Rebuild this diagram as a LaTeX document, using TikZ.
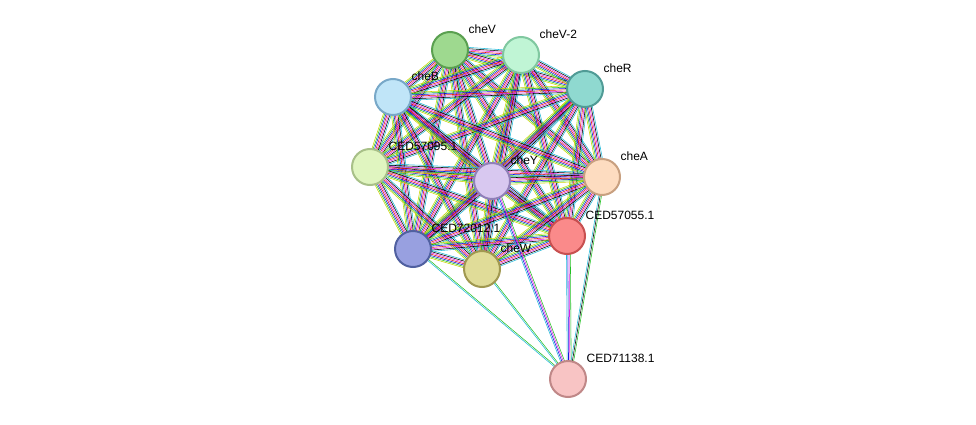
\documentclass[tikz,border=0pt]{standalone}
\usepackage{fontspec}
\setmainfont{Liberation Sans}
\usetikzlibrary{calc}
\definecolor{lyel}{HTML}{C8D400}
\definecolor{lgrn}{HTML}{22C022}
\definecolor{lblu}{HTML}{1515E0}
\definecolor{lred}{HTML}{E01515}
\definecolor{lmag}{HTML}{E020E0}
\definecolor{lcya}{HTML}{20B8D8}
\tikzset{prot/.style={circle, draw, line width=2pt, minimum size=36pt,
                      inner sep=0pt},
         lbl/.style={font=\fontsize{12}{13}\selectfont, inner sep=1pt,
                     anchor=south west, xshift=4pt, yshift=2pt},
         link/.style={line width=0.55pt}}
% bundle of parallel coloured lines between two nodes
\newcommand\bundle[4]{%
  \foreach \c [count=\i] in {#4} {%
    \pgfmathsetmacro\o{(#3+\i)*1.3}
    \draw[link,\c] ($(#1)!\o pt!90:(#2)$) -- ($(#2)!\o pt!-90:(#1)$);
  }}
\begin{document}
\begin{tikzpicture}[x=1pt,y=-1pt]
\useasboundingbox (0,0) rectangle (976,425);

% positions
\coordinate (pV)  at (450,50);
\coordinate (pV2) at (521,55);
\coordinate (pR)  at (585,89);
\coordinate (pB)  at (393,97);
\coordinate (p95) at (370,167);
\coordinate (pY)  at (492,181);
\coordinate (pA)  at (602,177);
\coordinate (p55) at (567,236);
\coordinate (p12) at (413,249);
\coordinate (pW)  at (482,269);
\coordinate (p38) at (568,379);

% dense edges
\foreach \a/\b in {pV/pV2,pV/pR,pV/pB,pV/p95,pV/pY,pV/pA,pV/p55,pV/p12,pV/pW,
                   pV2/pR,pV2/pB,pV2/p95,pV2/pY,pV2/pA,pV2/p55,pV2/p12,pV2/pW,
                   pR/pB,pR/p95,pR/pY,pR/pA,pR/p55,pR/p12,pR/pW,
                   pB/p95,pB/pY,pB/pA,pB/p55,pB/p12,pB/pW,
                   p95/pY,p95/pA,p95/p55,p95/p12,p95/pW,
                   pY/pA,pY/p55,pY/p12,pY/pW,
                   pA/p55,pA/p12,pA/pW,
                   p55/p12,p55/pW,
                   p12/pW}
  {\bundle{\a}{\b}{-4}{lyel,lgrn,lblu,lred,lmag,black,lcya}}

% edges to CED71138.1
\bundle{p38}{p12}{-2.5}{lgrn,lcya}
\bundle{p38}{pW}{-2.5}{lgrn,lcya}
\bundle{p38}{pY}{-3.5}{lgrn,lmag,lblu,lcya}
\bundle{p38}{p55}{-3.5}{lgrn,lmag,lblu,lcya}
\bundle{p38}{pA}{-3}{lgrn,black,lcya}

% proteins
\node (cheV)  [prot,fill={rgb,255:red,158;green,217;blue,143},draw={rgb,255:red,90;green,160;blue,80},
               label={[lbl]45:cheV}] at (pV){};
\node (cheV2) [prot,fill={rgb,255:red,192;green,245;blue,213},draw={rgb,255:red,128;green,200;blue,160},
               label={[lbl]45:cheV-2}] at (pV2){};
\node (cheR)  [prot,fill={rgb,255:red,143;green,217;blue,208},draw={rgb,255:red,80;green,155;blue,150},
               label={[lbl]45:cheR}] at (pR){};
\node (cheB)  [prot,fill={rgb,255:red,192;green,229;blue,248},draw={rgb,255:red,120;green,168;blue,200},
               label={[lbl]45:cheB}] at (pB){};
\node (ced95) [prot,fill={rgb,255:red,224;green,245;blue,192},draw={rgb,255:red,168;green,192;blue,136},
               label={[lbl]45:CED57095.1}] at (p95){};
\node (cheY)  [prot,fill={rgb,255:red,216;green,200;blue,240},draw={rgb,255:red,144;green,128;blue,184},
               label={[lbl]45:cheY}] at (pY){};
\node (cheA)  [prot,fill={rgb,255:red,253;green,220;blue,192},draw={rgb,255:red,200;green,160;blue,128},
               label={[lbl]45:cheA}] at (pA){};
\node (ced55) [prot,fill={rgb,255:red,250;green,138;blue,138},draw={rgb,255:red,200;green,80;blue,80},
               label={[lbl]45:CED57055.1}] at (p55){};
\node (ced12) [prot,fill={rgb,255:red,152;green,160;blue,224},draw={rgb,255:red,80;green,96;blue,160},
               label={[lbl]45:CED72012.1}] at (p12){};
\node (cheW)  [prot,fill={rgb,255:red,224;green,220;blue,152},draw={rgb,255:red,160;green,152;blue,80},
               label={[lbl]45:cheW}] at (pW){};
\node (ced38) [prot,fill={rgb,255:red,248;green,196;blue,196},draw={rgb,255:red,192;green,136;blue,136},
               label={[lbl]45:CED71138.1}] at (p38){};

\end{tikzpicture}
\end{document}
